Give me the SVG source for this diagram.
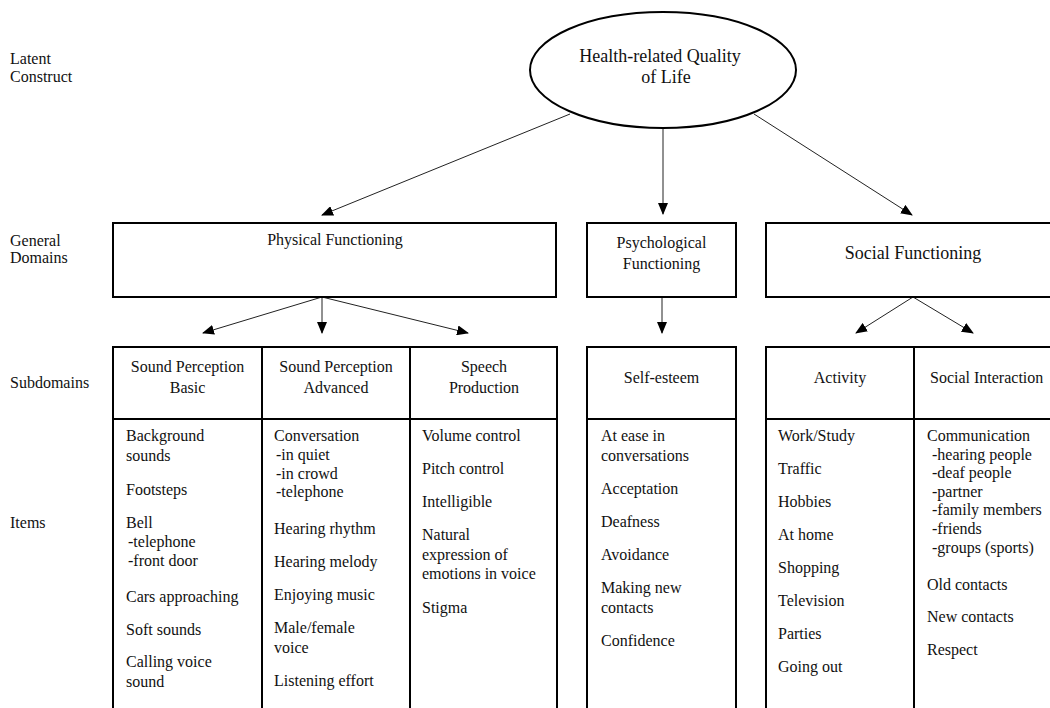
<svg xmlns="http://www.w3.org/2000/svg" width="1050" height="708" viewBox="0 0 1050 708">
<style>
text{font-family:"Liberation Serif","Times New Roman",serif;font-size:16px;fill:#111}
.big{font-size:18px}
.c{text-anchor:middle}
.box{fill:#fff;stroke:#000;stroke-width:2}
.ln{fill:none;stroke:#000;stroke-width:2}
.conn{stroke:#222;stroke-width:1;fill:none;marker-end:url(#ah)}
</style>
<defs>
<marker id="ah" markerWidth="12" markerHeight="10" refX="11" refY="5" orient="auto" markerUnits="userSpaceOnUse">
<path d="M0,0 L12,5 L0,10 z" fill="#000"/>
</marker>
</defs>
<rect width="1050" height="708" fill="#fff"/>

<g id="level-labels">
<text x="10" y="64">Latent</text>
<text x="10" y="82">Construct</text>
<text x="10" y="246">General</text>
<text x="10" y="263">Domains</text>
<text x="10" y="388">Subdomains</text>
<text x="10" y="528">Items</text>
</g>

<g id="connectors">
<line class="conn" x1="570" y1="114" x2="322" y2="215"/>
<line class="conn" x1="663" y1="128" x2="663" y2="214"/>
<line class="conn" x1="754" y1="114" x2="912" y2="215"/>
<line class="conn" x1="322" y1="297" x2="203" y2="333"/>
<line class="conn" x1="322" y1="297" x2="322" y2="333"/>
<line class="conn" x1="322" y1="297" x2="468" y2="333"/>
<line class="conn" x1="662" y1="297" x2="662" y2="333"/>
<line class="conn" x1="913" y1="297" x2="856" y2="333"/>
<line class="conn" x1="913" y1="297" x2="973" y2="333"/>
</g>

<g id="latent">
<ellipse cx="663" cy="70" rx="133" ry="58" fill="#fff" stroke="#000" stroke-width="2"/>
<text class="big c" x="660" y="62">Health-related Quality</text>
<text class="big c" x="666" y="83">of Life</text>
</g>

<g id="domain-physical">
<rect class="box" x="113" y="223" width="443" height="74"/>
<text class="c" x="335" y="245">Physical Functioning</text>
</g>
<g id="domain-psychological">
<rect class="box" x="587" y="223" width="149" height="74"/>
<text class="c" x="661.5" y="248">Psychological</text>
<text class="c" x="661.5" y="269">Functioning</text>
</g>
<g id="domain-social">
<rect class="box" x="766" y="223" width="296" height="74"/>
<text class="big c" x="913" y="259">Social Functioning</text>
</g>

<g id="sub-physical">
<rect class="box" x="113" y="347" width="444" height="370"/>
<line class="ln" x1="113" y1="419" x2="557" y2="419"/>
<line class="ln" x1="262" y1="347" x2="262" y2="710"/>
<line class="ln" x1="410" y1="347" x2="410" y2="710"/>
</g>
<g id="sub-sound-basic">
<text class="c" x="187.5" y="372">Sound Perception</text>
<text class="c" x="187.5" y="393">Basic</text>
<text x="126" y="441">Background</text>
<text x="126" y="461">sounds</text>
<text x="126" y="495">Footsteps</text>
<text x="126" y="528">Bell</text>
<text x="128" y="547">-telephone</text>
<text x="128" y="566">-front door</text>
<text x="126" y="602">Cars approaching</text>
<text x="126" y="635">Soft sounds</text>
<text x="126" y="667">Calling voice</text>
<text x="126" y="687">sound</text>
</g>
<g id="sub-sound-advanced">
<text class="c" x="336" y="372">Sound Perception</text>
<text class="c" x="336" y="393">Advanced</text>
<text x="274" y="441">Conversation</text>
<text x="276" y="460">-in quiet</text>
<text x="276" y="479">-in crowd</text>
<text x="276" y="497">-telephone</text>
<text x="274" y="534">Hearing rhythm</text>
<text x="274" y="567">Hearing melody</text>
<text x="274" y="600">Enjoying music</text>
<text x="274" y="633">Male/female</text>
<text x="274" y="653">voice</text>
<text x="274" y="686">Listening effort</text>
</g>
<g id="sub-speech">
<text class="c" x="484" y="372">Speech</text>
<text class="c" x="484" y="393">Production</text>
<text x="422" y="441">Volume control</text>
<text x="422" y="474">Pitch control</text>
<text x="422" y="507">Intelligible</text>
<text x="422" y="540">Natural</text>
<text x="422" y="560">expression of</text>
<text x="422" y="579">emotions in voice</text>
<text x="422" y="613">Stigma</text>
</g>

<g id="sub-self-esteem">
<rect class="box" x="587" y="347" width="149" height="370"/>
<line class="ln" x1="587" y1="419" x2="736" y2="419"/>
<text class="c" x="661.5" y="383">Self-esteem</text>
<text x="601" y="441">At ease in</text>
<text x="601" y="461">conversations</text>
<text x="601" y="494">Acceptation</text>
<text x="601" y="527">Deafness</text>
<text x="601" y="560">Avoidance</text>
<text x="601" y="593">Making new</text>
<text x="601" y="613">contacts</text>
<text x="601" y="646">Confidence</text>
</g>

<g id="sub-social">
<rect class="box" x="766" y="347" width="296" height="370"/>
<line class="ln" x1="766" y1="419" x2="1062" y2="419"/>
<line class="ln" x1="914" y1="347" x2="914" y2="710"/>
</g>
<g id="sub-activity">
<text class="c" x="840" y="383">Activity</text>
<text x="778" y="441">Work/Study</text>
<text x="778" y="474">Traffic</text>
<text x="778" y="507">Hobbies</text>
<text x="778" y="540">At home</text>
<text x="778" y="573">Shopping</text>
<text x="778" y="606">Television</text>
<text x="778" y="639">Parties</text>
<text x="778" y="672">Going out</text>
</g>
<g id="sub-social-interaction">
<text x="930" y="383">Social Interaction</text>
<text x="927" y="441">Communication</text>
<text x="932" y="460">-hearing people</text>
<text x="932" y="478">-deaf people</text>
<text x="932" y="497">-partner</text>
<text x="932" y="515">-family members</text>
<text x="932" y="534">-friends</text>
<text x="932" y="553">-groups (sports)</text>
<text x="927" y="590">Old contacts</text>
<text x="927" y="622">New contacts</text>
<text x="927" y="655">Respect</text>
</g>
</svg>
